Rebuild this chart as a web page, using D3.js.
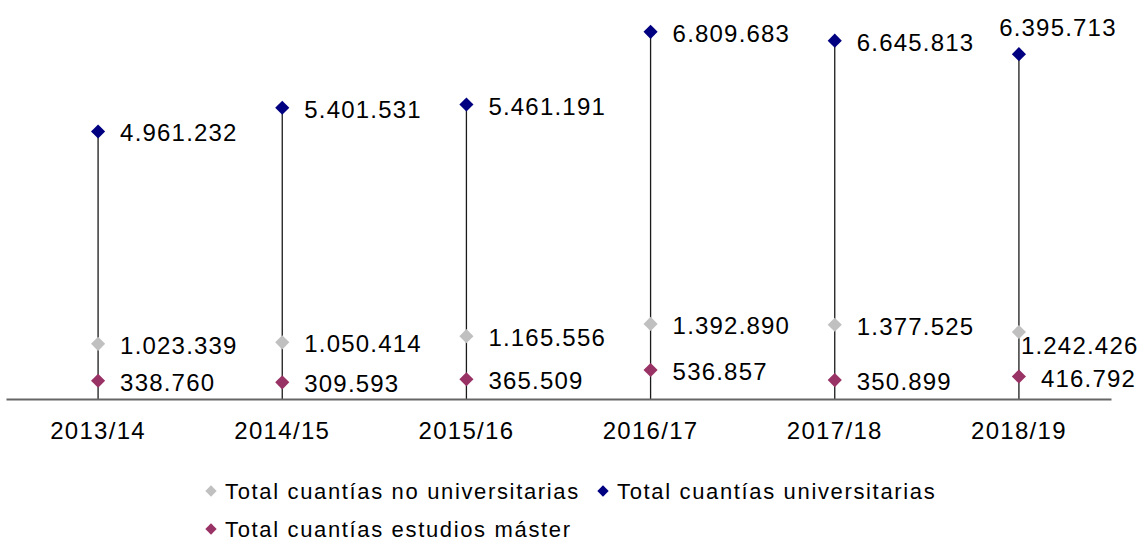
<!DOCTYPE html>
<html>
<head>
<meta charset="utf-8">
<script src="https://cdn.jsdelivr.net/npm/d3@7"></script>
<style>
  body { margin: 0; background: #fff; }
  text { font-family: 'Liberation Sans', Arial, sans-serif; fill: #000; }
</style>
</head>
<body>
<div id="svg_container"></div>
<script>
const w = 1137;
const h = 542;

const categories = ['2013/14', '2014/15', '2015/16', '2016/17', '2017/18', '2018/19'];
const seriesNames = ['Total cuantías no universitarias', 'Total cuantías universitarias', 'Total cuantías estudios máster'];
const noUniversitarias = [1023339, 1050414, 1165556, 1392890, 1377525, 1242426];
const universitarias = [4961232, 5401531, 5461191, 6809683, 6645813, 6395713];
const master = [338760, 309593, 365509, 536857, 350899, 416792];
const colors = ['#c0c0c0', '#000080', '#993366'];

const fmt = v => d3.format(',')(v).replace(/,/g, '.');

const svg = d3.select('#svg_container')
              .append('svg')
              .attr('width', w)
              .attr('height', h);

const xScale = d3.scaleBand()
                 .domain(categories)
                 .range([6, 1111])
                 .padding(0);
const cx = c => xScale(c) + xScale.bandwidth() / 2;

const yScale = d3.scaleLinear()
                 .domain([0, 7400000])
                 .range([399, 0]);

// drop lines from the highest series down to the axis
svg.selectAll('line.drop')
  .data(categories)
  .enter()
  .append('line')
  .attr('x1', d => cx(d))
  .attr('x2', d => cx(d))
  .attr('y1', (d, i) => yScale(universitarias[i]))
  .attr('y2', yScale(0))
  .attr('stroke', '#1a1a1a')
  .attr('stroke-width', 1.3);

// category axis
const xAxis = d3.axisBottom(xScale).tickSize(0).tickPadding(23);
const gx = svg.append('g')
              .attr('transform', `translate(0, ${yScale(0)})`)
              .call(xAxis);
gx.select('.domain').attr('stroke', '#666').attr('stroke-width', 2);
gx.selectAll('text')
  .style('font-size', '24px')
  .style('letter-spacing', '1.3px')
  .attr('fill', '#000')
  .attr('font-family', "'Liberation Sans', Arial, sans-serif");

const diamond = d3.symbol().type(d3.symbolSquare).size(100);

const series = [
  { values: noUniversitarias, color: colors[0] },
  { values: universitarias, color: colors[1] },
  { values: master, color: colors[2] }
];

series.forEach((s, si) => {
  const g = svg.append('g');
  g.selectAll('path')
    .data(s.values)
    .enter()
    .append('path')
    .attr('d', diamond)
    .attr('fill', s.color)
    .attr('transform', (d, i) => `translate(${cx(categories[i])}, ${yScale(d)}) rotate(45)`);

  g.selectAll('text')
    .data(s.values)
    .enter()
    .append('text')
    .attr('x', (d, i) => {
      const x = cx(categories[i]);
      if (i === 5 && si === 1) return x + 39;
      if (i === 5 && si === 0) return x + 2;
      return x + 22;
    })
    .attr('y', (d, i) => {
      const y = yScale(d);
      if (i === 5 && si === 1) return y - 18;
      if (i === 5 && si === 0) return y + 22;
      return y + 10;
    })
    .attr('text-anchor', (d, i) => (i === 5 && si === 1) ? 'middle' : 'start')
    .style('font-size', '24px')
    .style('letter-spacing', '1.2px')
    .text(d => fmt(d));
});

// legend
const legendPos = [[211, 491], [603, 491], [211, 529]];
const lg = svg.append('g');
const smallDiamond = d3.symbol().type(d3.symbolSquare).size(64);
seriesNames.forEach((name, i) => {
  const [lx, ly] = legendPos[i];
  lg.append('path')
    .attr('d', smallDiamond)
    .attr('fill', colors[i])
    .attr('transform', `translate(${lx}, ${ly}) rotate(45)`);
  lg.append('text')
    .attr('x', lx + 14)
    .attr('y', ly + 8)
    .style('font-size', '22px')
    .style('letter-spacing', '1.65px')
    .text(name);
});
</script>
</body>
</html>
